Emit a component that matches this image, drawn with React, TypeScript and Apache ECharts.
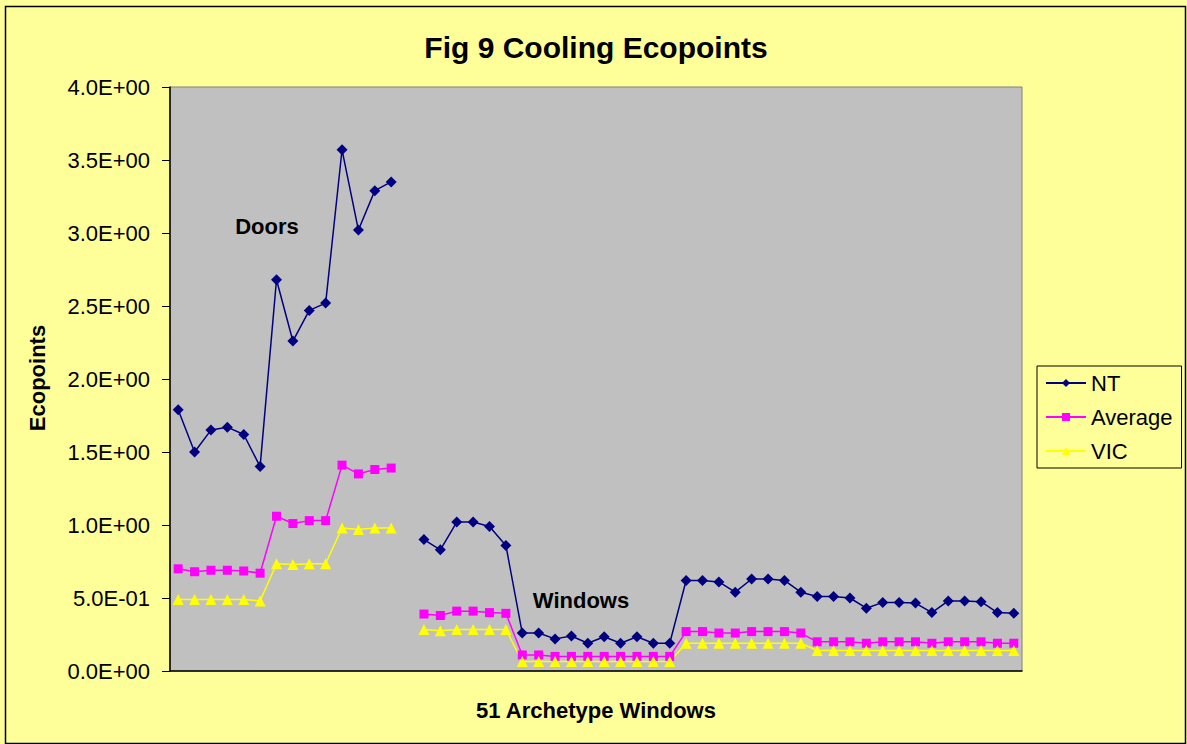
import React, { useEffect, useRef } from "react";
import * as echarts from "echarts";

const seriesNames = ["NT", "Average", "VIC"];

const doorLabels = ["D1","D2","D3","D4","D5","D6","D7","D8","D9","D10","D11","D12","D13","D14"];
const windowLabels = ["W1","W2","W3","W4","W5","W6","W7","W8","W9","W10","W11","W12","W13","W14","W15","W16","W17","W18","W19","W20","W21","W22","W23","W24","W25","W26","W27","W28","W29","W30","W31","W32","W33","W34","W35","W36","W37"];

const ntDoors = [1.79, 1.50, 1.65, 1.67, 1.62, 1.40, 2.68, 2.26, 2.47, 2.52, 3.57, 3.02, 3.29, 3.35];
const avgDoors = [0.70, 0.68, 0.69, 0.69, 0.685, 0.67, 1.06, 1.01, 1.03, 1.03, 1.41, 1.35, 1.38, 1.39];
const vicDoors = [0.49, 0.49, 0.49, 0.49, 0.49, 0.48, 0.735, 0.73, 0.735, 0.735, 0.98, 0.97, 0.98, 0.98];

const ntWindows = [0.90, 0.83, 1.02, 1.02, 0.99, 0.86, 0.26, 0.26, 0.22, 0.24, 0.19, 0.235, 0.19, 0.235, 0.19, 0.19,
  0.62, 0.62, 0.61, 0.54, 0.63, 0.63, 0.62, 0.54, 0.51, 0.51, 0.50, 0.43, 0.47, 0.47, 0.465, 0.40, 0.48, 0.48, 0.475, 0.40, 0.395];
const avgWindows = [0.39, 0.38, 0.41, 0.41, 0.40, 0.395, 0.11, 0.11, 0.10, 0.10, 0.10, 0.10, 0.10, 0.10, 0.10, 0.10,
  0.27, 0.27, 0.26, 0.26, 0.27, 0.27, 0.27, 0.26, 0.20, 0.20, 0.20, 0.19, 0.20, 0.20, 0.20, 0.19, 0.20, 0.20, 0.20, 0.19, 0.19];
const vicWindows = [0.285, 0.275, 0.285, 0.285, 0.285, 0.285, 0.065, 0.065, 0.065, 0.065, 0.065, 0.065, 0.065, 0.065, 0.065, 0.065,
  0.19, 0.19, 0.19, 0.19, 0.19, 0.19, 0.19, 0.19, 0.14, 0.14, 0.14, 0.14, 0.14, 0.14, 0.14, 0.14, 0.14, 0.14, 0.14, 0.14, 0.14];

const FONT = "Arial, 'Liberation Sans', sans-serif";

function fmtSci(v: number): string {
  if (v === 0) return "0.0E+00";
  let e = Math.floor(Math.log10(Math.abs(v)) + 1e-9);
  let m = v / Math.pow(10, e);
  const sign = e < 0 ? "-" : "+";
  const ae = Math.abs(e);
  return m.toFixed(1) + "E" + sign + (ae < 10 ? "0" + ae : "" + ae);
}

export default function App() {
  const ref = useRef<HTMLDivElement>(null);
  useEffect(() => {
    if (!ref.current) return;
    const chart = echarts.init(ref.current, undefined, { renderer: "svg" });
    const categories = [...doorLabels, "", ...windowLabels];
    const nt = [...ntDoors, null, ...ntWindows];
    const avg = [...avgDoors, null, ...avgWindows];
    const vic = [...vicDoors, null, ...vicWindows];
    chart.setOption({
      animation: false,
      backgroundColor: "#FFFF99",
      textStyle: { fontFamily: FONT },
      grid: {
        left: 170, top: 87, right: 165, bottom: 73,
        show: true, backgroundColor: "#C0C0C0", borderColor: "#808080", borderWidth: 1,
      },
      legend: {
        orient: "vertical",
        left: 1037,
        top: 366,
        padding: [6, 9, 6, 8],
        itemGap: 12,
        itemWidth: 40,
        itemHeight: 10,
        backgroundColor: "#FFFF99",
        borderColor: "#000",
        borderWidth: 1,
        borderRadius: 0,
        textStyle: { fontSize: 22, color: "#000", fontFamily: FONT },
        data: seriesNames,
      },
      xAxis: {
        type: "category",
        data: categories,
        boundaryGap: true,
        axisLine: { lineStyle: { color: "#000", width: 1.5 } },
        axisTick: { show: false },
        axisLabel: { show: false },
        splitLine: { show: false },
      },
      yAxis: {
        type: "value",
        min: 0,
        max: 4,
        interval: 0.5,
        axisLine: { show: true, lineStyle: { color: "#000", width: 1.5 } },
        axisTick: { show: true, length: 8, lineStyle: { color: "#000", width: 1 } },
        axisLabel: { color: "#000", fontSize: 22, margin: 20, fontFamily: FONT, formatter: (v: number) => fmtSci(v) },
        splitLine: { show: false },
      },
      series: [
        {
          name: "NT", type: "line", data: nt, symbol: "diamond", symbolSize: 11, showAllSymbol: true,
          itemStyle: { color: "#000080" }, lineStyle: { color: "#000080", width: 1.5 },
        },
        {
          name: "Average", type: "line", data: avg, symbol: "rect", symbolSize: 9, showAllSymbol: true,
          itemStyle: { color: "#FF00FF" }, lineStyle: { color: "#FF00FF", width: 1.5 },
        },
        {
          name: "VIC", type: "line", data: vic, symbol: "triangle", symbolSize: 11, showAllSymbol: true,
          itemStyle: { color: "#FFFF00" }, lineStyle: { color: "#FFFF00", width: 1.5 },
        },
      ],
      graphic: [
        {
          type: "rect", left: 3, top: 4, silent: true,
          shape: { width: 1180, height: 737 },
          style: { fill: "none", stroke: "#000", lineWidth: 1.5 },
        },
        {
          type: "text", x: 596, y: 47,
          style: { text: "Fig 9 Cooling Ecopoints", font: `bold 30px ${FONT}`, fill: "#000", textAlign: "center", textVerticalAlign: "middle" },
        },
        {
          type: "text", x: 596, y: 710,
          style: { text: "51 Archetype Windows", font: `bold 22px ${FONT}`, fill: "#000", textAlign: "center", textVerticalAlign: "middle" },
        },
        {
          type: "text", x: 37, y: 378, rotation: Math.PI / 2,
          style: { text: "Ecopoints", font: `bold 22px ${FONT}`, fill: "#000", textAlign: "center", textVerticalAlign: "middle" },
        },
        {
          type: "text", x: 267, y: 226,
          style: { text: "Doors", font: `bold 22px ${FONT}`, fill: "#000", textAlign: "center", textVerticalAlign: "middle" },
        },
        {
          type: "text", x: 581, y: 600,
          style: { text: "Windows", font: `bold 22px ${FONT}`, fill: "#000", textAlign: "center", textVerticalAlign: "middle" },
        },
      ],
    });
    return () => chart.dispose();
  }, []);
  return <div ref={ref} style={{ position: "absolute", left: 0, top: 0, width: 1187, height: 744 }} />;
}
